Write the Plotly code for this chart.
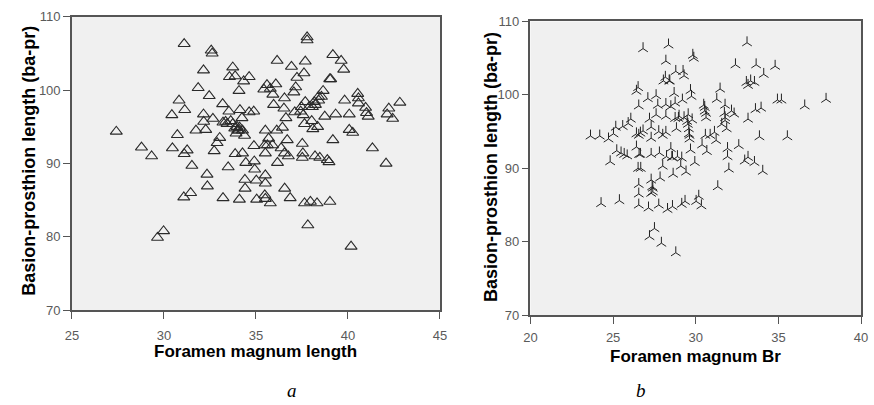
import plotly.graph_objects as go

# Panel a: foramen magnum length vs basion-prosthion length
fm_length = [
    27.41, 28.78, 29.33, 29.65, 29.98, 30.43, 30.46, 30.73, 30.82, 31.10,
    31.13, 31.10, 31.26, 31.08, 31.45, 31.52, 31.74, 31.86, 32.15, 32.15,
    32.16, 32.27, 32.34, 32.36, 32.46, 32.57, 32.62, 32.66, 32.73, 32.89,
    33.03, 33.19, 33.21, 33.35, 33.49, 33.53, 33.56, 33.74, 33.87, 33.63,
    33.74, 33.85, 33.87, 33.97, 34.01, 34.10, 34.08, 34.11, 34.13, 34.24,
    34.27, 34.33, 34.40, 34.41, 34.38, 34.45, 34.63, 34.63, 34.88, 34.89,
    34.91, 34.93, 35.02, 35.04, 35.43, 35.51, 35.48, 35.51, 35.51, 35.51,
    35.48, 35.51, 35.60, 35.69, 35.78, 35.92, 35.96, 35.90, 36.08, 36.15,
    36.13, 36.17, 36.37, 36.44, 36.55, 36.52, 36.55, 36.56, 36.63, 36.70,
    36.76, 36.86, 36.93, 37.06, 37.11, 37.16, 37.23, 37.43, 37.52, 37.55,
    37.52, 37.57, 37.61, 37.68, 37.64, 37.64, 37.68, 37.78, 37.78, 37.82,
    37.89, 37.96, 38.03, 38.09, 38.17, 38.21, 38.32, 38.35, 38.40, 38.47,
    38.56, 38.65, 38.74, 38.88, 39.01, 39.02, 39.18, 39.18, 39.33, 39.63,
    39.77, 39.82, 40.07, 40.07, 40.17, 40.26, 40.53, 40.57, 40.96, 41.10,
    41.33, 42.07, 42.13, 42.22, 42.43, 42.82,
    33.21, 33.43, 34.06, 33.92, 38.07, 38.23, 38.41, 37.47, 34.27, 40.57,
    39.06, 41.01, 38.97, 35.62, 35.78,
]
ba_pr_a = [
    94.35, 92.2, 91.0, 79.9, 80.8, 96.6, 92.1, 93.9, 98.6, 106.3,
    97.3, 91.3, 91.8, 85.4, 86.0, 89.7, 94.5, 100.3, 102.7, 96.7,
    95.7, 94.6, 88.5, 86.9, 99.2, 105.4, 105.0, 96.1, 91.7, 92.8,
    93.5, 98.1, 85.3, 95.7, 89.5, 97.1, 101.8, 103.1, 101.9, 95.8,
    95.4, 94.8, 91.3, 95.0, 94.5, 85.1, 99.9, 94.9, 97.3, 96.2,
    91.4, 101.2, 87.8, 86.6, 93.8, 90.1, 101.8, 97.0, 97.1, 92.4,
    90.3, 89.2, 87.7, 85.1, 100.1, 94.5, 92.5, 91.4, 88.4, 87.3,
    85.7, 85.2, 100.7, 93.4, 84.6, 99.4, 98.0, 92.5, 100.8, 104.0,
    94.5, 90.1, 92.1, 94.9, 98.9, 97.5, 91.4, 86.6, 96.2, 93.2,
    91.0, 85.3, 103.2, 99.7, 97.0, 100.4, 101.7, 97.1, 92.7, 91.4,
    90.8, 96.6, 102.3, 103.9, 84.6, 95.4, 98.4, 107.2, 106.8, 81.6,
    97.7, 84.8, 95.8, 94.7, 98.4, 91.0, 84.6, 95.0, 99.1, 90.8,
    99.1, 99.9, 96.4, 90.5, 101.5, 84.8, 104.8, 93.2, 96.7, 104.0,
    102.8, 98.6, 96.7, 94.6, 78.7, 94.2, 99.5, 98.2, 97.6, 96.4,
    92.1, 90.0, 96.7, 97.5, 96.1, 98.3,
    95.6, 95.4, 94.5, 94.1, 97.7, 98.0, 98.6, 97.7, 94.5, 98.9,
    101.5, 96.9, 90.2, 92.5, 100.2,
]

# Panel b: foramen magnum breadth vs basion-prosthion length
fm_breadth = [
    23.63, 24.19, 24.72, 25.02, 24.82, 25.22, 24.27, 25.38, 25.16, 25.58,
    25.48, 25.67, 25.85, 25.91, 26.07, 26.41, 26.51, 26.55, 26.41, 26.55,
    26.65, 26.57, 26.65, 26.51, 26.67, 26.55, 26.55, 26.55, 26.81, 26.81,
    27.10, 27.14, 27.20, 27.30, 27.30, 27.30, 27.36, 27.40, 27.30, 27.20,
    27.50, 27.60, 27.60, 27.70, 27.76, 27.80, 27.84, 27.76, 27.92, 28.00,
    28.00, 28.04, 28.16, 28.19, 28.19, 28.19, 28.23, 28.29, 28.35, 28.19,
    28.39, 28.49, 28.49, 28.59, 28.59, 28.63, 28.69, 28.75, 28.75, 28.83,
    28.79, 28.79, 28.89, 28.99, 29.09, 29.15, 29.19, 29.23, 29.29, 29.29,
    29.35, 29.41, 29.48, 29.58, 29.62, 29.68, 29.68, 29.74, 29.82, 29.88,
    29.78, 29.94, 30.02, 30.18, 30.34, 30.48, 30.54, 30.62, 30.58, 30.67,
    30.38, 30.87, 31.13, 31.23, 31.33, 31.27, 31.47, 31.57, 31.73, 31.77,
    31.77, 31.87, 31.92, 31.92, 32.00, 32.16, 32.32, 32.40, 32.60, 32.96,
    33.06, 33.16, 33.16, 33.16, 33.10, 33.32, 33.55, 33.61, 33.55, 33.65,
    33.85, 33.95, 34.05, 34.11, 34.80, 34.94, 35.18, 35.54, 36.59, 37.88,
    29.52, 29.58, 29.62, 29.54, 30.54, 30.62, 31.77, 27.40, 27.30, 28.95,
    28.55, 29.15, 28.43, 26.41,
]
ba_pr_b = [
    94.4, 94.4, 94.0, 94.7, 90.9, 92.4, 85.2, 85.6, 95.6, 95.7,
    92.1, 91.9, 91.7, 96.1, 96.7, 100.5, 101.0, 98.5, 92.9, 94.5,
    94.8, 91.9, 91.9, 90.0, 90.0, 87.8, 86.5, 85.0, 106.3, 95.1,
    99.5, 84.6, 96.7, 95.6, 91.9, 88.4, 87.5, 86.8, 94.1, 80.7,
    81.8, 99.9, 97.3, 98.6, 95.0, 92.1, 88.7, 85.0, 79.8, 94.5,
    90.3, 101.9, 102.4, 98.7, 97.1, 94.9, 91.6, 84.4, 106.8, 104.6,
    101.9, 98.4, 92.7, 91.5, 84.8, 89.2, 100.2, 96.8, 98.9, 95.4,
    78.5, 103.2, 91.6, 97.1, 90.3, 85.1, 99.3, 103.2, 96.9, 102.6,
    85.5, 89.5, 96.4, 95.4, 94.5, 92.5, 100.6, 99.8, 105.4, 105.0,
    96.6, 90.8, 85.5, 86.2, 84.9, 98.6, 97.8, 96.9, 94.5, 92.3,
    93.2, 94.5, 94.9, 93.8, 87.5, 99.4, 100.8, 96.0, 97.5, 98.6,
    96.5, 95.4, 92.7, 91.6, 89.9, 97.8, 97.4, 104.1, 93.1, 91.0,
    101.7, 101.3, 91.5, 96.7, 107.1, 101.9, 101.7, 98.0, 90.8, 104.1,
    94.3, 98.2, 89.6, 102.8, 103.9, 99.3, 99.3, 94.3, 98.5, 99.4,
    96.0, 94.7, 94.0, 97.3, 98.3, 97.5, 96.9, 87.3, 86.6, 96.8,
    91.5, 91.4, 101.9, 94.7,
]

y_ticks = [70, 80, 90, 100, 110]
x_ticks_a = [25, 30, 35, 40, 45]
x_ticks_b = [20, 25, 30, 35, 40]

W, H = 874, 405
AX_COLOR = "#555555"
TICK_FONT = dict(family="Liberation Sans, Arial, sans-serif", size=13, color="#5a5a5a")
X_TITLE_FONT = dict(family="Liberation Sans, Arial, sans-serif", size=17, color="#000000")
Y_TITLE_FONT = dict(family="Liberation Sans, Arial, sans-serif", size=18, color="#000000")

fig = go.Figure()

fig.add_trace(go.Scatter(
    x=fm_length, y=ba_pr_a, mode="markers", xaxis="x", yaxis="y",
    marker=dict(symbol="triangle-up-open", size=10.5, color="#2a2a2a",
                line=dict(width=1.1, color="#2a2a2a")),
    showlegend=False, hoverinfo="x+y",
))
fig.add_trace(go.Scatter(
    x=fm_breadth, y=ba_pr_b, mode="markers", xaxis="x2", yaxis="y2",
    marker=dict(symbol="y-up-open", size=8, color="#222222",
                line=dict(width=1, color="#222222")),
    showlegend=False, hoverinfo="x+y",
))


def px_x(p):
    return p / W


def px_y(p):
    return 1 - p / H


axis_common = dict(
    showgrid=False, zeroline=False, showline=True, linecolor=AX_COLOR,
    linewidth=1.5, mirror=True, ticks="outside", ticklen=7, tickwidth=1,
    tickcolor=AX_COLOR, tickfont=TICK_FONT,
)

fig.update_layout(
    width=W, height=H,
    margin=dict(l=0, r=0, t=0, b=0),
    paper_bgcolor="white",
    plot_bgcolor="#f0f0f0",
    xaxis=dict(domain=[px_x(66), px_x(440)], range=[25, 45],
               tickvals=x_ticks_a, anchor="y", ticklabelstandoff=5, **axis_common),
    yaxis=dict(domain=[px_y(315), px_y(10)], range=[70, 110],
               tickvals=y_ticks, anchor="x", **axis_common),
    xaxis2=dict(domain=[px_x(532), px_x(868)], range=[20, 40],
                tickvals=x_ticks_b, anchor="y2", ticklabelstandoff=3, **axis_common),
    yaxis2=dict(domain=[px_y(320), px_y(15)], range=[70, 110],
                tickvals=y_ticks, anchor="x2", **axis_common),
)

annotations = [
    dict(text="<b>Foramen magnum length</b>", x=px_x(253), y=px_y(358), font=X_TITLE_FONT),
    dict(text="<b>Basion-prosthion length (ba-pr)</b>", x=px_x(22), y=px_y(160),
         textangle=-90, font=Y_TITLE_FONT),
    dict(text="<b>Foramen magnum Br</b>", x=px_x(700), y=px_y(363), font=X_TITLE_FONT),
    dict(text="<b>Basion-prosthion length (ba-pr)</b>", x=px_x(492), y=px_y(166),
         textangle=-90, font=Y_TITLE_FONT),
]
for a in annotations:
    fig.add_annotation(xref="paper", yref="paper", showarrow=False,
                       xanchor="center", yanchor="middle", **a)

for letter, xp in (("a", 290), ("b", 644)):
    fig.add_annotation(xref="paper", yref="paper", showarrow=False,
                       x=px_x(xp), y=px_y(398), xanchor="center", yanchor="middle",
                       text=f"<i>{letter}</i>",
                       font=dict(family="Liberation Serif, Times New Roman, serif",
                                 size=19, color="#000000"))

fig.write_html("out.html")
